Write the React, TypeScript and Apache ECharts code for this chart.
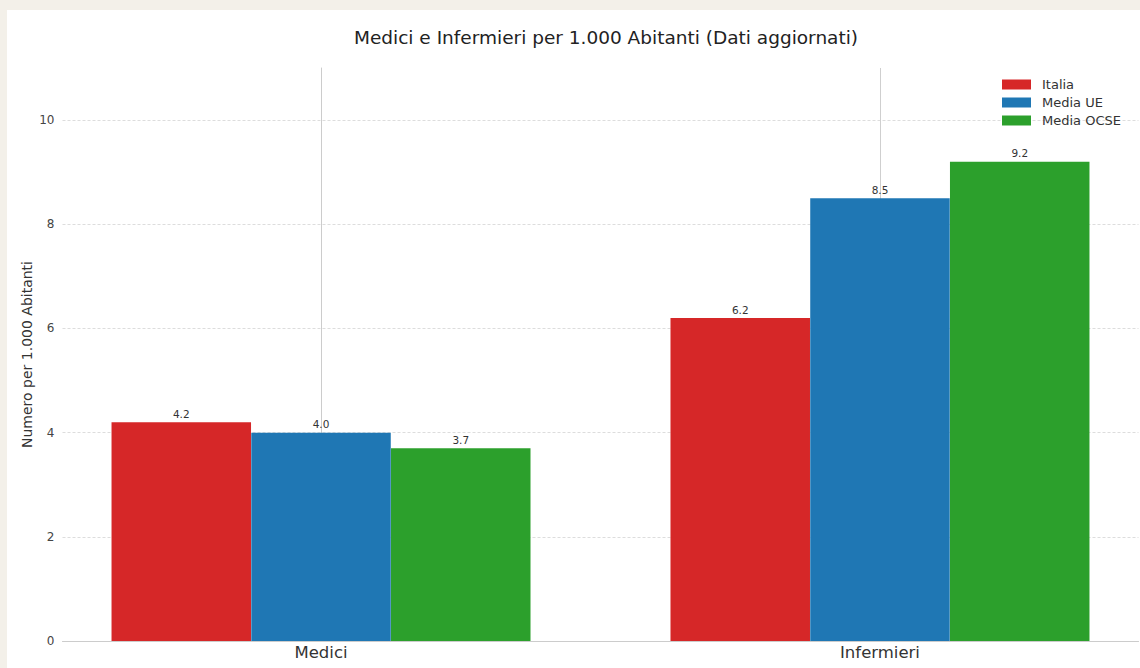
import React, { useEffect, useRef } from "react";
import * as echarts from "echarts";

const categories = ["Medici", "Infermieri"];
const seriesNames = ["Italia", "Media UE", "Media OCSE"];
const italia = [4.2, 6.2];
const mediaUE = [4.0, 8.5];
const mediaOCSE = [3.7, 9.2];
const seriesValues = [italia, mediaUE, mediaOCSE];
const seriesColors = ["#d62728", "#1f77b4", "#2ca02c"];
const yTicks = [0, 2, 4, 6, 8, 10];
const barSlot = 0.25; // bar width in category units
const titleText = "Medici e Infermieri per 1.000 Abitanti (Dati aggiornati)";
const yName = "Numero per 1.000 Abitanti";

const FONT = "'DejaVu Sans', sans-serif";

export default function App() {
  const ref = useRef<HTMLDivElement>(null);
  useEffect(() => {
    if (!ref.current) return;
    const chart = echarts.init(ref.current, undefined, { renderer: "svg" });
    const xMin = -1.5 * barSlot - 0.0875;
    const xMax = categories.length - 1 + 1.5 * barSlot + 0.0875;
    const gridCommon = { left: 55.5, right: 1.5, bottom: 27 };
    const option: any = {
      animation: false,
      backgroundColor: "#ffffff",
      textStyle: { fontFamily: FONT },
      title: {
        text: titleText,
        left: 594,
        textAlign: "center",
        top: 13,
        textStyle: { fontFamily: FONT, fontSize: 18.5, fontWeight: "normal", color: "#222" },
      },
      legend: {
        orient: "vertical",
        left: 995,
        top: 68,
        padding: 0,
        itemGap: 5,
        itemWidth: 29,
        itemHeight: 10,
        icon: "rect",
        data: seriesNames,
        textStyle: { fontFamily: FONT, fontSize: 13, color: "#333", padding: [0, 0, 0, 6] },
      },
      grid: [
        { ...gridCommon, top: 58 },
        { ...gridCommon, top: 110.1 },
      ],
      xAxis: [
        {
          type: "value",
          gridIndex: 0,
          min: xMin,
          max: xMax,
          splitNumber: 2,
          axisLine: { show: true, onZero: false, lineStyle: { color: "#cccccc", width: 1 } },
          axisTick: { show: false },
          axisLabel: {
            show: true,
            margin: 3,
            fontSize: 16.5,
            color: "#333",
            fontFamily: FONT,
            showMinLabel: false,
            showMaxLabel: false,
            formatter: (v: number) => {
              const i = Math.round(v);
              return Math.abs(v - i) < 1e-6 && categories[i] ? categories[i] : "";
            },
          },
          splitLine: {
            show: true,
            showMinLine: false,
            showMaxLine: false,
            lineStyle: { color: "#cfcfcf", width: 1, type: "solid" },
          },
        },
        { type: "value", gridIndex: 1, min: xMin, max: xMax, show: false },
      ],
      yAxis: [
        {
          type: "value",
          gridIndex: 0,
          min: 0,
          max: 11,
          name: yName,
          nameLocation: "middle",
          nameGap: 29,
          nameTextStyle: { fontFamily: FONT, fontSize: 14, color: "#333" },
          axisLine: { show: true, lineStyle: { color: "#cccccc", width: 1 } },
          axisTick: { show: false },
          axisLabel: { show: false },
          splitLine: { show: false },
        },
        {
          type: "value",
          gridIndex: 1,
          min: yTicks[0],
          max: yTicks[yTicks.length - 1],
          interval: yTicks[1] - yTicks[0],
          axisLine: { show: false },
          axisTick: { show: false },
          axisLabel: { margin: 8, fontSize: 12, color: "#444", fontFamily: FONT },
          splitLine: { show: true, lineStyle: { color: "#dddddd", width: 1, type: [3, 2] } },
        },
      ],
      series: seriesNames.map((name, s) => ({
        name,
        type: "bar",
        xAxisIndex: 0,
        yAxisIndex: 0,
        barWidth: 139.5,
        barGap: "-100%",
        itemStyle: { color: seriesColors[s] },
        label: {
          show: true,
          position: "top",
          distance: 3,
          fontSize: 10.5,
          color: "#333",
          fontFamily: FONT,
          formatter: (p: any) => Number(p.value[1]).toFixed(1),
        },
        data: seriesValues[s].map((v, i) => [i + (s - 1) * barSlot, v]),
      })),
    };
    chart.setOption(option);
    return () => chart.dispose();
  }, []);
  return (
    <div style={{ position: "fixed", left: 0, top: 0, width: 1140, height: 668, background: "#f3f0e9" }}>
      <div ref={ref} style={{ position: "absolute", left: 7, top: 10, width: 1133, height: 658 }} />
    </div>
  );
}
